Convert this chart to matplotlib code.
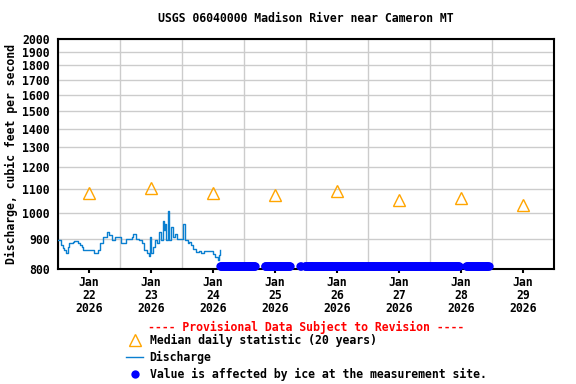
import pandas as pd
import matplotlib
matplotlib.use('Agg')
import matplotlib.pyplot as plt
import matplotlib.dates as mdates
from matplotlib.lines import Line2D
from matplotlib.ticker import FixedLocator, NullLocator

# Data
START = pd.Timestamp('2026-01-21 12:00')
END = pd.Timestamp('2026-01-29 12:00')

# Median daily statistic (20 years)
median_days = ['2026-01-22', '2026-01-23', '2026-01-24', '2026-01-25',
               '2026-01-26', '2026-01-27', '2026-01-28', '2026-01-29']
median_cfs = [1084, 1106, 1084, 1076, 1093, 1054, 1063, 1034]

# Discharge (hours after Jan 21 12:00, cfs)
q_hours = [0.0, 1.2, 1.8, 2.5, 3.1, 3.7, 4.4, 5.7, 6.3, 7.6, 8.5, 9.3, 9.8,
           12.1, 14.1, 15.4, 16.4, 17.3, 18.8, 19.9, 20.9, 22.2, 23.5, 24.5,
           25.4, 26.3, 28.6, 29.2, 30.2, 31.5, 32.5, 33.4, 34.3, 35.1, 35.6,
           36.0, 36.9, 37.7, 38.3, 39.2, 39.9, 40.5, 40.9, 41.5, 41.8, 42.6,
           43.1, 43.7, 44.4, 45.2, 45.9, 47.6, 48.5, 49.0, 50.2, 50.8, 51.5,
           52.1, 53.4, 54.7, 55.3, 56.6, 59.6, 59.9, 60.9, 61.8, 62.4, 62.7]
q_cfs = [897, 880, 869, 863, 854, 874, 886, 890, 895, 888, 880, 874, 863,
         863, 854, 863, 886, 909, 927, 915, 897, 907, 907, 888, 888, 903,
         907, 918, 903, 897, 888, 863, 852, 841, 909, 852, 874, 897, 888,
         927, 897, 970, 933, 958, 897, 1009, 897, 945, 909, 921, 903, 900,
         958, 897, 886, 892, 880, 866, 857, 861, 852, 861, 861, 850, 839,
         830, 847, 863]

# Ice-affected periods (start, end), value plotted near the bottom axis
ice_starts = ['2026-01-24 02:45', '2026-01-24 20:00', '2026-01-25 09:45',
              '2026-01-25 11:30', '2026-01-28 02:00']
ice_ends = ['2026-01-24 16:15', '2026-01-25 05:45', '2026-01-25 10:00',
            '2026-01-27 23:15', '2026-01-28 10:45']
ice_cfs = 811

FONT = 'DejaVu Sans Mono'
FS = 8.3
plt.rcParams['font.family'] = FONT
plt.rcParams['font.weight'] = 'bold'

q_times = [START + pd.Timedelta(hours=h) for h in q_hours]
med_times = pd.to_datetime(median_days)
ice_times = []
for s, e in zip(ice_starts, ice_ends):
    ice_times.extend(pd.date_range(s, e, freq='15min'))

fig = plt.figure(figsize=(5.76, 3.84), dpi=100)
ax = fig.add_axes([58/576, 1 - 269/384, 496/576, 230/384])

ax.set_yscale('log')
ax.set_ylim(800, 2000)
ax.set_xlim(START, END)

ax.step(q_times, q_cfs, where='post', color='#0a7fd0', linewidth=1.0, zorder=3)
ax.plot(ice_times, [ice_cfs] * len(ice_times), 'o', color='#0000ff',
        markersize=6, markeredgewidth=0, zorder=4, clip_on=False)
ax.plot(med_times, median_cfs, '^', markersize=8, markerfacecolor='none',
        markeredgecolor='#ffa500', markeredgewidth=1.0, linestyle='none', zorder=5)

# y axis
yt = list(range(800, 2001, 100))
ax.yaxis.set_major_locator(FixedLocator(yt))
ax.yaxis.set_minor_locator(NullLocator())
ax.set_yticklabels([str(v) for v in yt], fontsize=FS, fontweight='bold')
ax.tick_params(axis='y', length=0, pad=6)
ax.set_ylabel('Discharge, cubic feet per second', fontsize=FS, fontweight='bold', labelpad=3)

# x axis: labels at midnight, grid at noon
ax.xaxis.set_major_locator(mdates.DayLocator())
ax.xaxis.set_major_formatter(mdates.DateFormatter('%b\n%d\n%Y'))
ax.xaxis.set_minor_locator(mdates.HourLocator(byhour=[12]))
ax.tick_params(axis='x', which='major', length=3, width=1.5, direction='out', pad=2)
ax.tick_params(axis='x', which='minor', length=0)
for lab in ax.get_xticklabels():
    lab.set_fontsize(FS)
    lab.set_fontweight('bold')
    lab.set_linespacing(0.98)

ax.grid(True, axis='y', which='major', color='#cccccc', linewidth=1)
ax.grid(True, axis='x', which='minor', color='#cccccc', linewidth=1)
ax.grid(False, axis='x', which='major')
ax.set_axisbelow(True)
for sp in ax.spines.values():
    sp.set_linewidth(1.5)

ax.set_title('USGS 06040000 Madison River near Cameron MT', fontsize=FS,
             fontweight='bold', pad=12)

fig.text(306/576, 1 - 327/384, '---- Provisional Data Subject to Revision ----',
         color='red', fontsize=FS, fontweight='bold', ha='center', va='center')

handles = [
    Line2D([], [], marker='^', markersize=8, markerfacecolor='none',
           markeredgecolor='#ffa500', linestyle='none'),
    Line2D([], [], color='#0a7fd0', linewidth=1.0),
    Line2D([], [], marker='o', markersize=6, color='#0000ff', markeredgewidth=0,
           linestyle='none'),
]
labels = ['Median daily statistic (20 years)', 'Discharge',
          'Value is affected by ice at the measurement site.']
fig.legend(handles, labels, loc='upper left', bbox_to_anchor=(126/576, 1 - 334/384),
           frameon=False, fontsize=FS, handlelength=1.5, handletextpad=0.55,
           labelspacing=0.33, borderpad=0, borderaxespad=0,
           prop={'family': FONT, 'weight': 'bold', 'size': FS})

fig.savefig('out.png', dpi=100)
